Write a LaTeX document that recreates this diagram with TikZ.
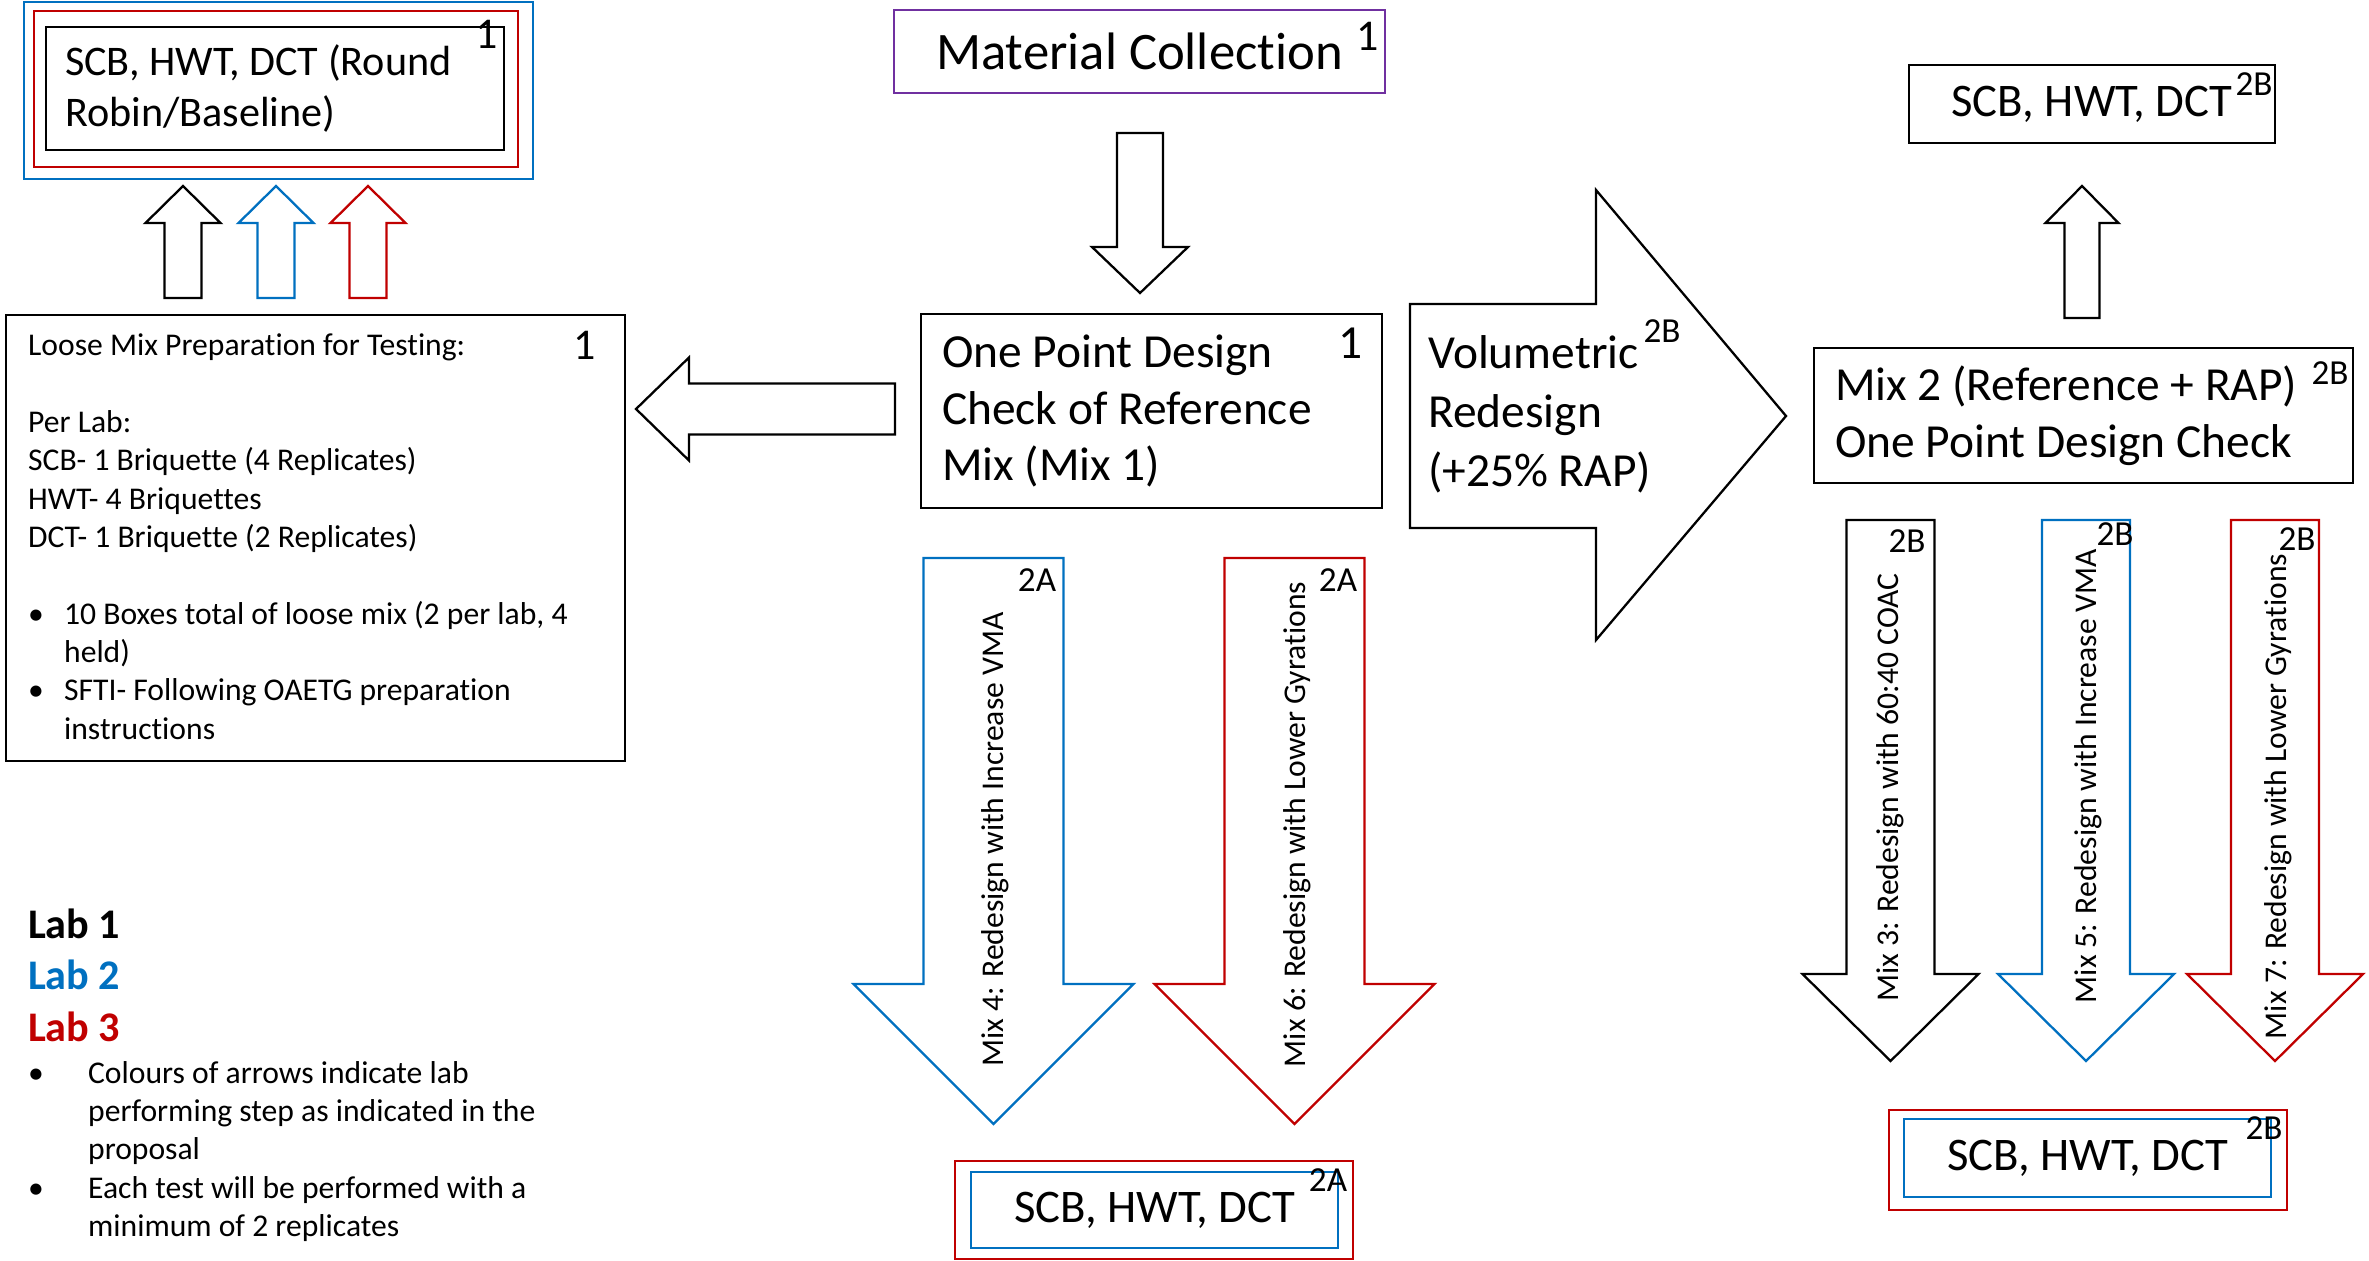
\documentclass[tikz,border=0pt]{standalone}
\usepackage{fontspec}
\setmainfont{Carlito}[Ligatures={TeX,CommonOff}]
\definecolor{labblue}{RGB}{0,112,192}
\definecolor{labred}{RGB}{192,0,0}
\definecolor{collpurple}{RGB}{112,48,160}

\begin{document}
\begin{tikzpicture}[x=0.1mm,y=-0.1mm,line width=0.65pt,
    box/.style={draw,inner sep=0pt},
    tag/.style={inner sep=0pt,font=\fontsize{10}{12}\selectfont},
    one/.style={inner sep=0pt,font=\fontsize{12.5}{15}\selectfont},
    big/.style={font=\fontsize{13.5}{16.2}\selectfont},
    small/.style={font=\fontsize{9}{10.9}\selectfont},
    tests/.style={box,font=\fontsize{13.3}{16}\selectfont}]
    \useasboundingbox (0,0) rectangle (2369,1260);
    % step 1: round robin
    \node[box,draw=labblue,line width=0.8pt,minimum width=50.9mm,minimum height=17.7mm] (rrblue) at (278.5,90.5) {};
    \node[box,draw=labred,line width=0.8pt,minimum width=48.4mm,minimum height=15.6mm] (rrred) at (276,89) {};
    \node[box,minimum width=45.8mm,minimum height=12.3mm,text width=42mm,align=flush left,font=\fontsize{12}{14.5}\selectfont] (rr) at (275,88.5) {SCB, HWT, DCT (Round\\Robin/Baseline)};
    \node[one] (rrtag) at (487,34) {1};
    \foreach \cx/\col in {183/black,276/labblue,368/labred}
        \draw[draw=\col] ({\cx-18.5},298)--({\cx-18.5},223)--({\cx-37.5},223)--(\cx,186)--({\cx+37.5},223)--({\cx+18.5},223)--({\cx+18.5},298)--cycle;
    \node[box,minimum width=61.9mm,minimum height=44.6mm] (loose) at (315.5,538) {};
    \node[small,anchor=north west,inner sep=0pt,align=flush left] (loosetxt) at (27,333) {Loose Mix Preparation for Testing:\\[10.9pt]
        Per Lab:\\ SCB- 1 Briquette (4 Replicates)\\ HWT- 4 Briquettes\\ DCT- 1 Briquette (2 Replicates)\\[10.9pt]
        \makebox[3.6mm][l]{\textbullet}10 Boxes total of loose mix (2 per lab, 4\\ \hspace*{3.6mm}held)\\
        \makebox[3.6mm][l]{\textbullet}SFTI- Following OAETG preparation\\ \hspace*{3.6mm}instructions};
    \node[one] (loosetag) at (585,345) {1};
    \node[box,draw=collpurple,minimum width=49.1mm,minimum height=8.3mm,font=\fontsize{15}{18}\selectfont] (coll) at (1139.5,51.5) {Material Collection};
    \node[one] (colltag) at (1368,36) {1};
    \draw (1117,133)--(1163,133)--(1163,247)--(1188,247)--(1140,293)--(1092,247)--(1117,247)--cycle;
    \node[box,big,minimum width=46.1mm,minimum height=19.4mm,text width=41.9mm,align=flush left] (opd) at (1151.5,411) {One Point Design\\Check of Reference\\Mix (Mix 1)};
    \node[one,font=\fontsize{13.5}{16}\selectfont] (opdtag) at (1350,343) {1};
    \draw (895,383.5)--(689,383.5)--(689,357.5)--(636,409)--(689,460.5)--(689,434.5)--(895,434.5)--cycle;
    % step 2B: RAP
    \draw (1410,304)--(1596,304)--(1596,190)--(1786,416)--(1596,640)--(1596,528)--(1410,528)--cycle;
    \node[anchor=north west,inner sep=0pt,align=flush left,font=\fontsize{13.5}{16.8}\selectfont] (vol) at (1427,334) {Volumetric\\Redesign\\(+25\% RAP)};
    \node[tag] (voltag) at (1662,331) {2B};
    \node[box,big,minimum width=53.9mm,minimum height=13.5mm,text width=49.7mm,align=flush left] (mix2) at (2083.5,415.5) {Mix 2 (Reference + RAP)\\One Point Design Check};
    \node[tag] (mix2tag) at (2330,373) {2B};
    \draw (2064.5,318)--(2064.5,223)--(2045.5,223)--(2082,186)--(2118.5,223)--(2099.5,223)--(2099.5,318)--cycle;
    \node[tests,minimum width=36.6mm,minimum height=7.8mm] (tr) at (2092,104) {SCB, HWT, DCT};
    \node[tag] (trtag) at (2254,84) {2B};
    \foreach \cx/\col in {1890.5/black,2086/labblue,2275/labred}
        \draw[draw=\col] ({\cx-44},520)--({\cx+44},520)--({\cx+44},974)--({\cx+88},974)--(\cx,1061)--({\cx-88},974)--({\cx-44},974)--cycle;
    \node[small,rotate=90] (mix3) at (1890,787.5) {Mix 3: Redesign with 60:40 COAC};
    \node[small,rotate=90] (mix5) at (2088,776) {Mix 5: Redesign with Increase VMA};
    \node[small,rotate=90] (mix7) at (2278,796.5) {Mix 7: Redesign with Lower Gyrations};
    \node[tag] (mix3tag) at (1907,541) {2B};
    \node[tag] (mix5tag) at (2115,534) {2B};
    \node[tag] (mix7tag) at (2297,539) {2B};
    \node[box,draw=labred,line width=0.8pt,minimum width=39.8mm,minimum height=10mm] (brred) at (2088,1160) {};
    \node[tests,draw=labblue,minimum width=36.7mm,minimum height=7.8mm] (brblue) at (2087.5,1158) {SCB, HWT, DCT};
    \node[tag] (brtag) at (2264,1128) {2B};
    % step 2A
    \foreach \cx/\col in {993.5/labblue,1294.5/labred}
        \draw[draw=\col] ({\cx-70},558)--({\cx+70},558)--({\cx+70},984)--({\cx+140},984)--(\cx,1124)--({\cx-140},984)--({\cx-70},984)--cycle;
    \node[small,rotate=90] (mix4) at (995,839.5) {Mix 4: Redesign with Increase VMA};
    \node[small,rotate=90] (mix6) at (1297,824.5) {Mix 6: Redesign with Lower Gyrations};
    \node[tag] (mix4tag) at (1037,580) {2A};
    \node[tag] (mix6tag) at (1338,580) {2A};
    \node[box,draw=labred,line width=0.8pt,minimum width=39.8mm,minimum height=9.8mm] (bcred) at (1154,1210) {};
    \node[tests,draw=labblue,minimum width=36.7mm,minimum height=7.6mm] (bcblue) at (1154.5,1210) {SCB, HWT, DCT};
    \node[tag] (bctag) at (1328,1180) {2A};
    % legend
    \node[anchor=west,inner sep=0pt,font=\fontsize{12}{14}\selectfont\bfseries] (lab1) at (27,924) {Lab 1};
    \node[anchor=west,inner sep=0pt,font=\fontsize{12}{14}\selectfont\bfseries,text=labblue] (lab2) at (27,975) {Lab 2};
    \node[anchor=west,inner sep=0pt,font=\fontsize{12}{14}\selectfont\bfseries,text=labred] (lab3) at (27,1027) {Lab 3};
    \node[small,anchor=north west,inner sep=0pt,align=flush left] (note) at (27,1060) {\makebox[6mm][l]{\textbullet}Colours of arrows indicate lab\\
        \hspace*{6mm}performing step as indicated in the\\ \hspace*{6mm}proposal\\
        \makebox[6mm][l]{\textbullet}Each test will be performed with a\\ \hspace*{6mm}minimum of 2 replicates};
\end{tikzpicture}
\end{document}
